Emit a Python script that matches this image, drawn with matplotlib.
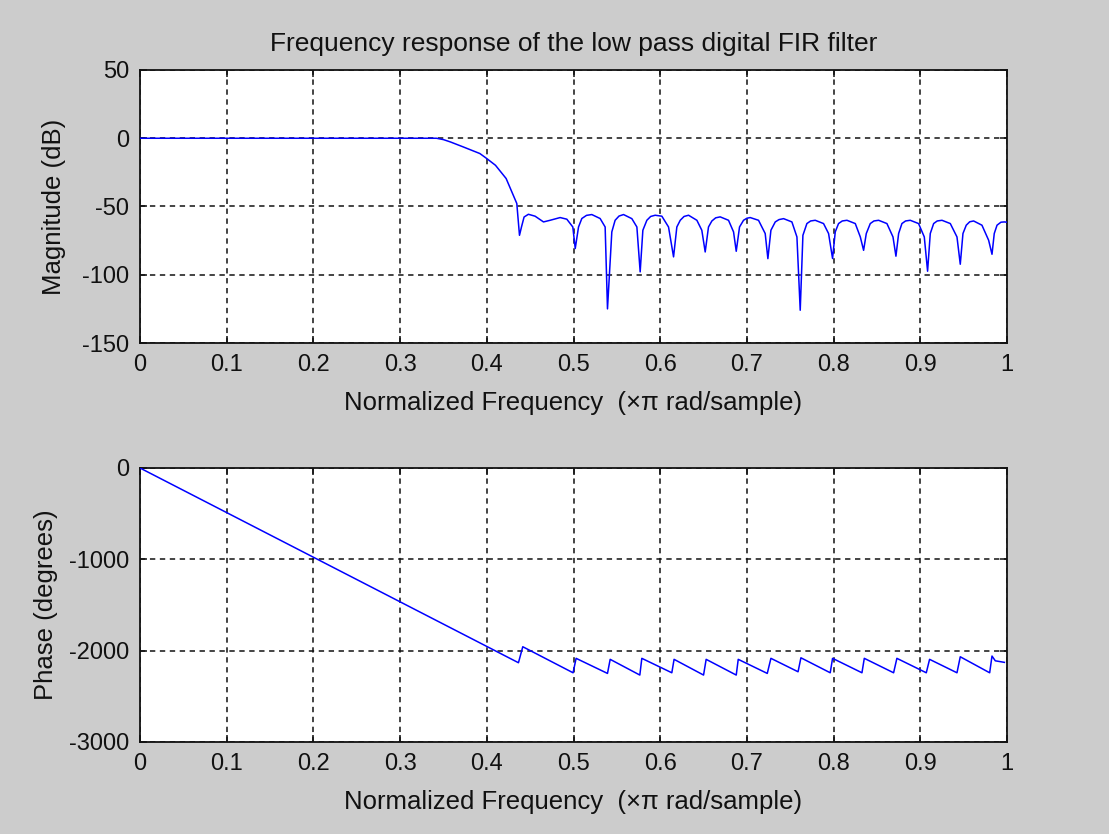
import matplotlib
matplotlib.use("Agg")
import matplotlib.pyplot as plt

# ---- data ----
mag_freq = [0.0, 0.342, 0.350, 0.358, 0.373, 0.392, 0.400, 0.410, 0.4223, 0.4346, 0.4377,
            0.440, 0.443, 0.448, 0.4557, 0.4654, 0.473, 0.4846, 0.4923, 0.4992, 0.502,
            0.5058, 0.5096, 0.5150, 0.5211, 0.5307, 0.5365, 0.5392, 0.5442, 0.548, 0.5525,
            0.5577, 0.5673, 0.5731, 0.5769, 0.580, 0.5846, 0.5890, 0.5942, 0.6019, 0.6096,
            0.6154, 0.6192, 0.6231, 0.6275, 0.6327, 0.6423, 0.648, 0.6519, 0.6557, 0.6596,
            0.6640, 0.6692, 0.6788, 0.6846, 0.6877, 0.6915, 0.6961, 0.7000, 0.7038, 0.7134,
            0.7211, 0.7242, 0.7277, 0.7327, 0.7370, 0.7423, 0.7519, 0.7577, 0.7615, 0.7646,
            0.7692, 0.7735, 0.7788, 0.7884, 0.7942, 0.7988, 0.8019, 0.8057, 0.8100, 0.8154,
            0.8250, 0.8308, 0.8346, 0.8377, 0.8423, 0.8465, 0.8519, 0.8615, 0.8685, 0.8719,
            0.8750, 0.8788, 0.8830, 0.8884, 0.8980, 0.9046, 0.9084, 0.9115, 0.9154, 0.9195,
            0.9250, 0.9346, 0.9423, 0.9461, 0.9492, 0.9530, 0.9570, 0.9615, 0.9711, 0.9788,
            0.9827, 0.9853, 0.9885, 0.9930, 0.9969, 1.0]
mag_db = [0.0, 0.0, -1.0, -2.7, -6.4, -11.2, -14.9, -19.8, -29.5, -47.8, -71.1,
          -65.0, -57.7, -55.7, -57.1, -61.3, -60.1, -58.1, -59.3, -65.0, -80.8,
          -65.0, -58.8, -56.5, -55.9, -58.8, -65.0, -125.0, -68.6, -60.1, -57.0,
          -55.9, -58.9, -65.0, -97.9, -67.4, -60.1, -57.3, -56.4, -57.1, -65.0,
          -86.9, -65.0, -60.1, -57.3, -56.4, -60.1, -67.4, -83.3, -65.0, -60.6,
          -58.3, -57.6, -60.1, -68.6, -82.8, -65.0, -60.1, -58.6, -58.1, -60.1,
          -69.8, -88.2, -67.4, -61.3, -59.6, -58.9, -61.3, -72.3, -126.0, -71.1,
          -62.5, -60.6, -60.1, -62.5, -69.8, -88.1, -68.6, -62.5, -60.6, -60.1,
          -62.5, -72.3, -82.1, -69.8, -62.5, -60.6, -60.1, -62.5, -72.3, -86.4,
          -69.8, -62.5, -60.6, -60.1, -62.5, -72.3, -97.4, -69.8, -62.5, -60.6,
          -60.1, -62.5, -72.3, -92.3, -69.8, -63.7, -61.2, -60.6, -63.7, -74.7,
          -85.0, -69.8, -63.7, -61.5, -61.3, -61.5]

phase_freq = [0.0, 0.4365, 0.4415, 0.4995, 0.5030, 0.5392, 0.5423, 0.5765, 0.5788,
              0.6134, 0.6160, 0.6500, 0.6530, 0.6877, 0.6900, 0.7235, 0.7277, 0.7590,
              0.7623, 0.7961, 0.7988, 0.8327, 0.8354, 0.8692, 0.8730, 0.9069, 0.9107,
              0.9423, 0.9461, 0.9800, 0.9827, 0.9865, 0.9970]
phase_deg = [0, -2132, -1957, -2242, -2084, -2249, -2095, -2267, -2084,
             -2242, -2095, -2267, -2095, -2267, -2095, -2249, -2084, -2231,
             -2078, -2242, -2084, -2242, -2084, -2242, -2084, -2242, -2095,
             -2242, -2067, -2242, -2059, -2111, -2128]

x_ticks = [0, 0.1, 0.2, 0.3, 0.4, 0.5, 0.6, 0.7, 0.8, 0.9, 1.0]
x_ticklabels = ["0", "0.1", "0.2", "0.3", "0.4", "0.5", "0.6", "0.7", "0.8", "0.9", "1"]
mag_ticks = [-150, -100, -50, 0, 50]
phase_ticks = [-3000, -2000, -1000, 0]

title = "Frequency response of the low pass digital FIR filter"
xlabel = "Normalized Frequency  (\u00d7\u03c0 rad/sample)"

plt.rcParams['font.family'] = ['Liberation Sans', 'DejaVu Sans']

W, H = 1109, 834
fig = plt.figure(figsize=(W / 100, H / 100), dpi=100, facecolor="#cccccc")

def px_axes(left, top, right, bottom):
    return fig.add_axes([left / W, 1 - bottom / H, (right - left) / W, (bottom - top) / H])

ax1 = px_axes(140, 70, 1007, 343)
ax2 = px_axes(140, 468, 1007, 742)

def style(ax, yticks, ylabel, ylabelpad):
    ax.set_facecolor("white")
    ax.set_xlim(0, 1)
    ax.set_xticks(x_ticks)
    ax.set_xticklabels(x_ticklabels)
    ax.set_yticks(yticks)
    ax.set_yticklabels([str(v) for v in yticks])
    ax.set_ylim(yticks[0], yticks[-1])
    ax.grid(True, color="#111111", linestyle=(0, (3.5, 3)), linewidth=1.1)
    ax.tick_params(direction="in", length=5, width=1.1, top=True, right=True,
                   labelsize=17, colors="#111111", pad=8)
    for s in ax.spines.values():
        s.set_linewidth(1.3)
        s.set_color("#111111")
    ax.set_xlabel(xlabel, fontsize=18.5, color="#111111", labelpad=11)
    ax.set_ylabel(ylabel, fontsize=18.5, color="#111111", labelpad=ylabelpad)

ax1.plot(mag_freq, mag_db, color="#0000ff", linewidth=1.1, zorder=3)
style(ax1, mag_ticks, "Magnitude (dB)", 11)
ax1.set_title(title, fontsize=19, color="#111111", pad=14)

ax2.plot(phase_freq, phase_deg, color="#0000ff", linewidth=1.1, zorder=3)
style(ax2, phase_ticks, "Phase (degrees)", 8)

fig.savefig("out.png", dpi=100, facecolor=fig.get_facecolor())
